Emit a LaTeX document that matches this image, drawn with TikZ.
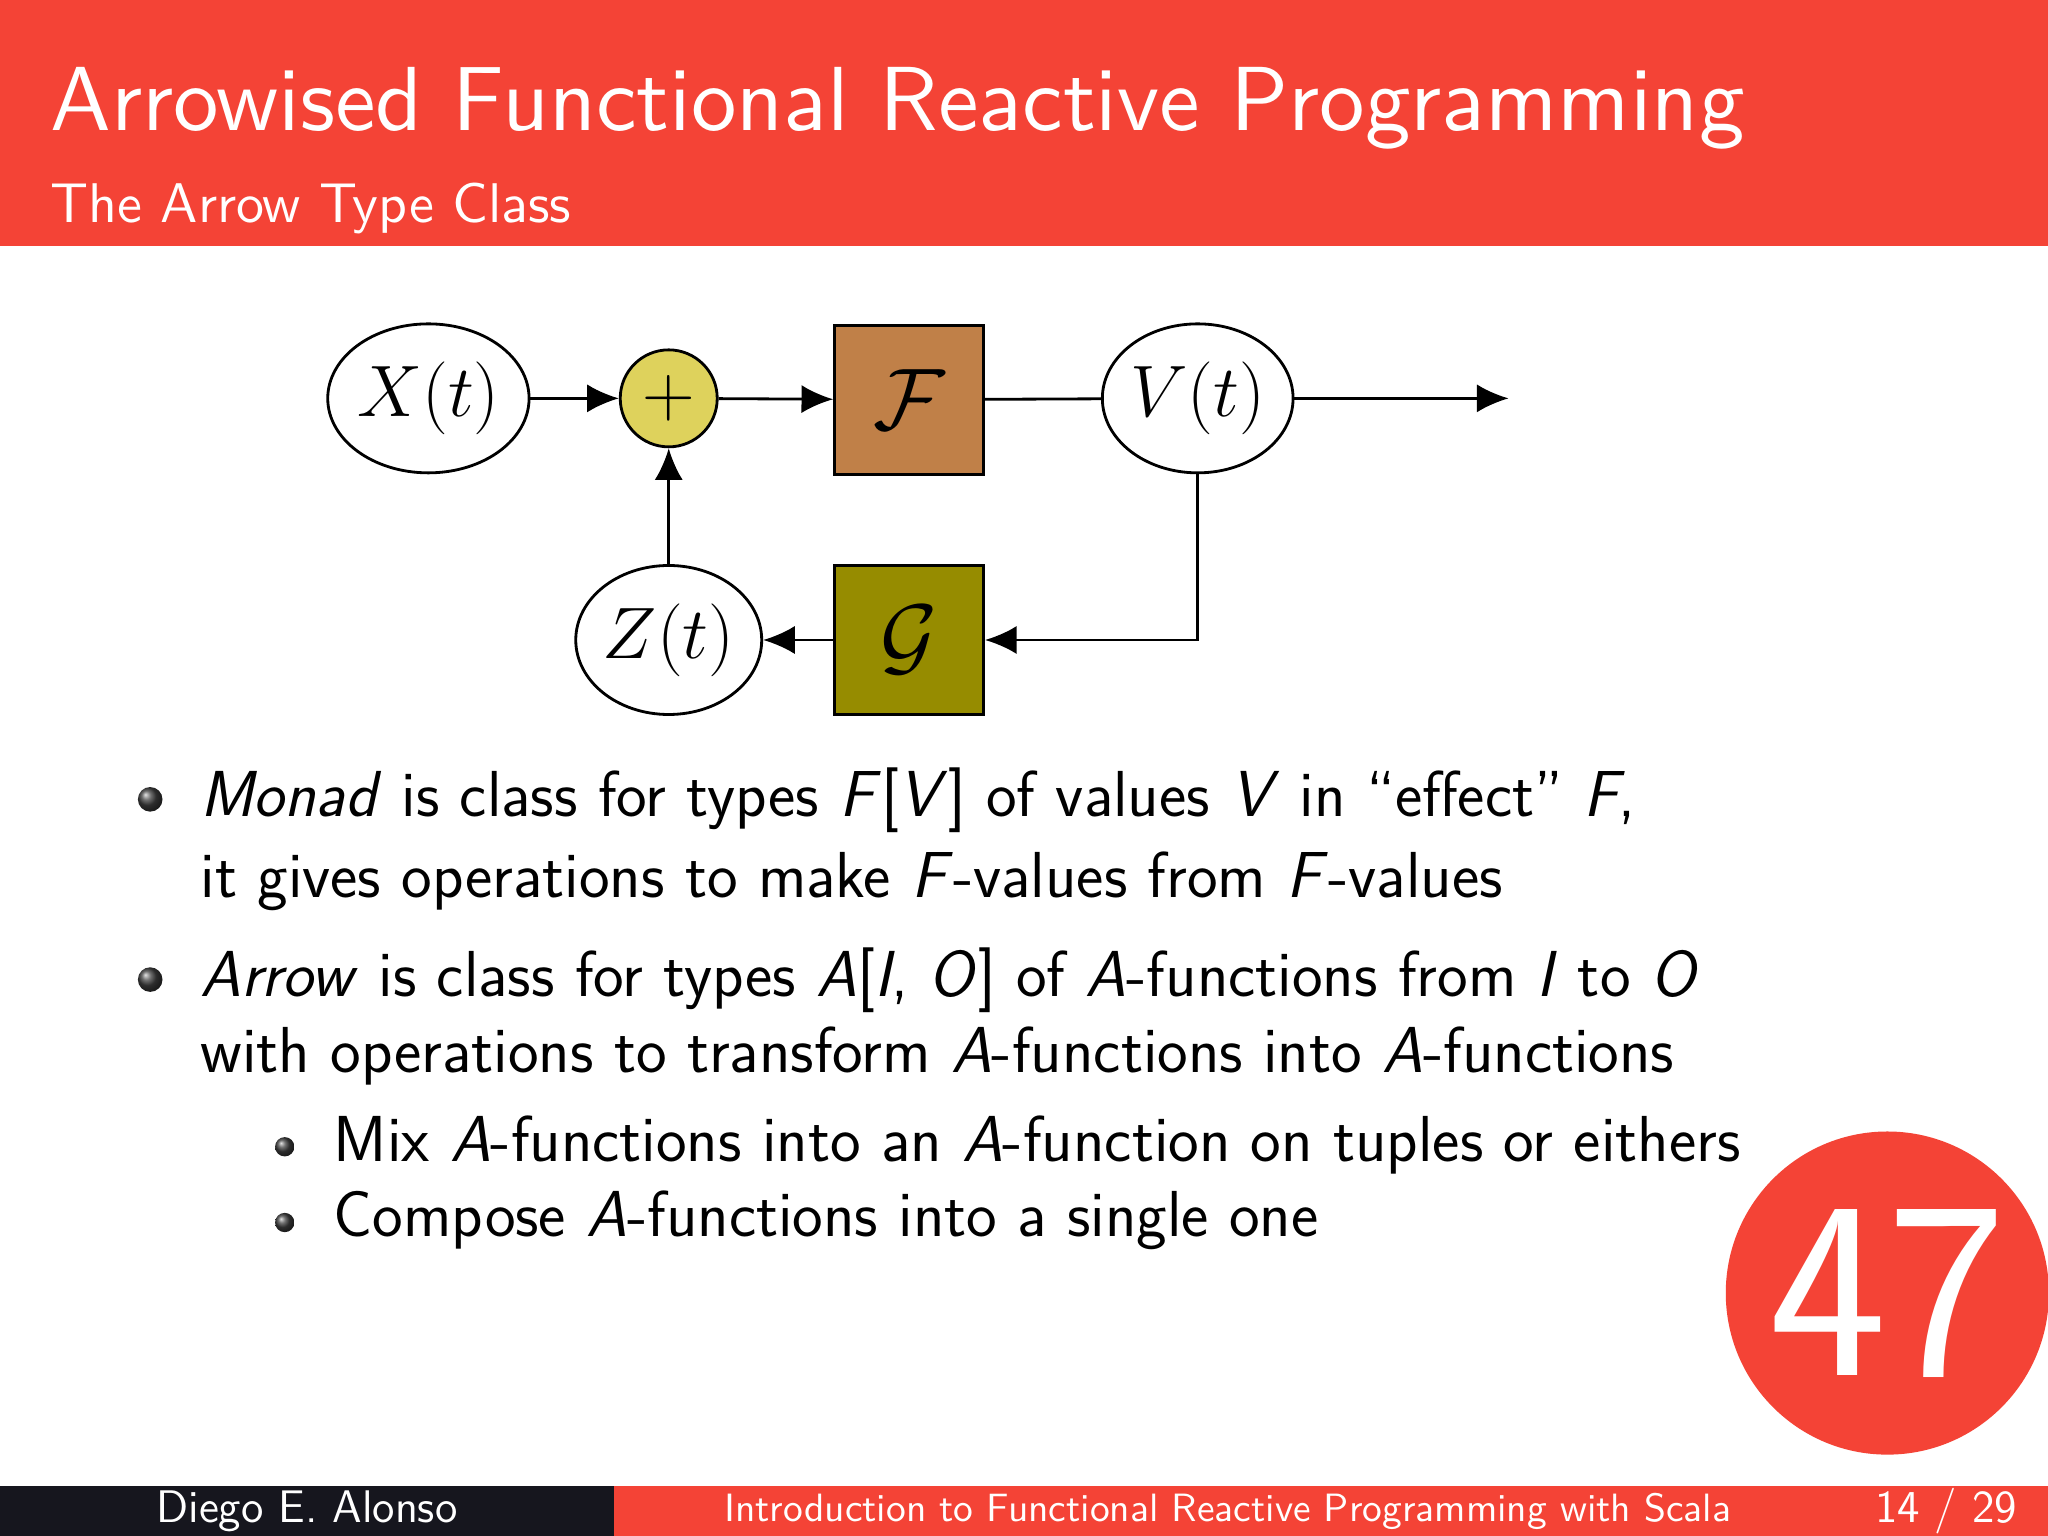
\documentclass[tikz,border=0pt]{standalone}
\usepackage{amsmath}
\usepackage{graphicx}
\usepackage{tikz}
\usetikzlibrary{shapes.geometric,arrows.meta}
\definecolor{slidered}{RGB}{244,67,54}
\definecolor{footdark}{RGB}{22,22,30}
\definecolor{plusfill}{RGB}{222,210,92}
\definecolor{ffill}{RGB}{192,128,72}
\definecolor{gfill}{RGB}{150,140,0}
\tikzset{
  state/.style={draw, thick, ellipse, fill=white, minimum width=1.91cm, minimum height=1.49cm, inner sep=0pt, font=\fontsize{20}{24}\selectfont},
  block/.style={draw, thick, minimum width=1.49cm, minimum height=1.49cm, inner sep=0pt, font=\fontsize{28}{30}\selectfont},
  flow/.style={thick, -{Latex[length=9pt,width=8pt]}},
  bigball/.style={circle, shading=ball, ball color=black!75, minimum size=7pt, inner sep=0pt},
  smallball/.style={circle, shading=ball, ball color=black!75, minimum size=5.5pt, inner sep=0pt},
  body/.style={anchor=base west, inner sep=0pt, font=\sffamily\fontsize{18.5}{22}\selectfont}
}
\begin{document}
\begin{tikzpicture}[x=0.01306cm, y=-0.01306cm]
\fill[white] (0,0) rectangle (1568,1176);
\useasboundingbox (0,0) rectangle (1568,1176);
% header
\fill[slidered] (0,0) rectangle (1568,188);
\node[anchor=base west, inner sep=0pt, text=white] (title) at (38,100) {\resizebox{16.94cm}{!}{\sffamily Arrowised Functional Reactive Programming}};
\node[anchor=base west, inner sep=0pt, text=white] (subtitle) at (38,170) {\resizebox{5.21cm}{!}{\sffamily The Arrow Type Class}};

% diagram
\node[state] (x) at (328,305) {$X(t)$};
\node[draw, thick, circle, fill=plusfill, minimum size=0.97cm, inner sep=0pt, font=\fontsize{20}{24}\selectfont] (plus) at (512,305) {$+$};
\node[block, fill=ffill] (f) at (696,306) {$\mathcal{F}$};
\node[state, minimum width=1.83cm] (v) at (917,305) {$V(t)$};
\coordinate (out) at (1155,305);
\node[state, minimum width=1.80cm] (z) at (512,490) {$Z(t)$};
\node[block, fill=gfill] (g) at (696,490) {$\mathcal{G}$};
\draw[flow] (x) -- (plus);
\draw[flow] (plus) -- (f);
\draw[thick] (f) -- (v);
\draw[flow] (v) -- (out);
\draw[flow] (v.south) |- (g.east);
\draw[flow] (g) -- (z);
\draw[flow] (z) -- (plus);

% bullets
\node[bigball] (b1) at (115,612) {};
\node[body] (l1) at (153,625) {\textit{Monad} is class for types \textit{F}[\textit{V}] of values \textit{V} in ``effect'' \textit{F},};
\node[body] (l2) at (153,687) {it gives operations to make \textit{F}-values from \textit{F}-values};
\node[bigball] (b2) at (115,750) {};
\node[body] (l3) at (153,763) {\textit{Arrow} is class for types \textit{A}[\textit{I}, \textit{O}] of \textit{A}-functions from \textit{I} to \textit{O}};
\node[body] (l4) at (153,821) {with operations to transform \textit{A}-functions into \textit{A}-functions};
\node[smallball] (b3) at (218,878) {};
\node[body] (l5) at (255,889) {Mix \textit{A}-functions into an \textit{A}-function on tuples or eithers};
\node[smallball] (b4) at (218,936) {};
\node[body] (l6) at (255,947) {Compose \textit{A}-functions into a single one};

% page badge
\node[circle, fill=slidered, minimum size=2.87cm, text=white, font=\sffamily\fontsize{72}{72}\selectfont] (badge) at (1445,990) {47};

% footer
\fill[footdark] (0,1138) rectangle (470,1176);
\fill[slidered] (470,1138) rectangle (1568,1176);
\node[text=white, inner sep=0pt, font=\sffamily\fontsize{13}{15}\selectfont] (author) at (235,1157) {Diego E. Alonso};
\node[text=white, inner sep=0pt] (talk) at (940,1157) {\resizebox{10.07cm}{!}{\sffamily Introduction to Functional Reactive Programming with Scala}};
\node[text=white, inner sep=0pt, font=\sffamily\fontsize{13}{15}\selectfont] (page) at (1490,1157) {14 / 29};
\end{tikzpicture}
\end{document}
